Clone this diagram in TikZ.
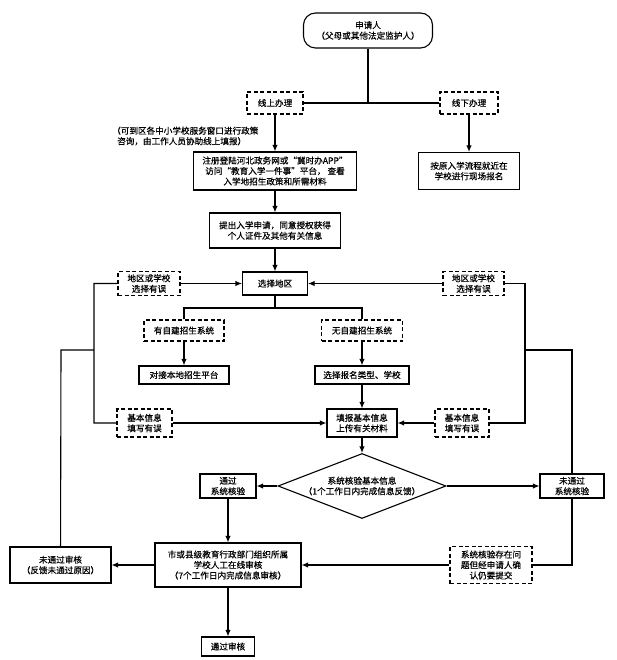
\documentclass[tikz,border=0pt]{standalone}
\usepackage{fontspec}
\setmainfont{Noto Sans CJK SC}[FakeBold=0.4]
\usetikzlibrary{shapes.geometric,arrows.meta}

\begin{document}
\begin{tikzpicture}[x=1pt,y=-1pt,font=\fontsize{8.6pt}{10.5pt}\selectfont,
    box/.style ={rectangle, draw, line width=1.1pt, align=center, inner sep=1pt},
    dbox/.style ={box, dash pattern=on 4pt off 2.5pt},
    link/.style ={line width=1.1pt},
    flow/.style ={link, -{Latex[length=6.5pt,width=5.5pt]}}]
   \useasboundingbox (0,0) rectangle (616,660);
   \node[box, rounded corners=12pt, minimum width=129pt, minimum height=35pt] (apply) at (368,30.5) {申请人\\（父母或其他法定监护人）};
   \node[dbox, minimum width=56pt, minimum height=22pt] (online) at (275,103) {线上办理};
   \node[dbox, minimum width=58pt, minimum height=22pt] (offline) at (469,103) {线下办理};
   \node[align=left, anchor=west, inner sep=0pt] (note) at (112,136) {（可到区各中小学校服务窗口进行政策\\\hspace*{5pt}咨询，由工作人员协助线上填报）};
   \node[box, minimum width=163pt, minimum height=38pt] (register) at (275,171) {注册登陆河北政务网或“冀时办APP”\\访问“教育入学一件事”平台， 查看\\入学地招生政策和所需材料};
   \node[box, minimum width=101pt, minimum height=37pt] (onsite) at (469,171) {按原入学流程就近在\\学校进行现场报名};
   \node[box, minimum width=131pt, minimum height=35pt] (submit) at (275,230.5) {提出入学申请，同意授权获得\\个人证件及其他有关信息};
   \node[box, minimum width=65pt, minimum height=23pt] (region) at (275,283.5) {选择地区};
   \node[dbox, minimum width=62pt, minimum height=24pt] (errL) at (149,283.5) {地区或学校\\选择有误};
   \node[dbox, minimum width=61pt, minimum height=24pt] (errR) at (473.5,283.5) {地区或学校\\选择有误};
   \node[dbox, minimum width=80pt, minimum height=21pt] (selfY) at (184,330.5) {有自建招生系统};
   \node[dbox, minimum width=81pt, minimum height=21pt] (selfN) at (362,330.5) {无自建招生系统};
   \node[box, minimum width=90pt, minimum height=18pt] (local) at (184,375) {对接本地招生平台};
   \node[box, minimum width=94pt, minimum height=18pt] (choose) at (362,375) {选择报名类型、学校};
   \node[box, minimum width=70pt, minimum height=28pt] (fill) at (362,423) {填报基本信息\\上传有关材料};
   \node[dbox, minimum width=55pt, minimum height=28pt] (infoL) at (144.5,423) {基本信息\\填写有误};
   \node[dbox, minimum width=54pt, minimum height=28pt] (infoR) at (462,423) {基本信息\\填写有误};
   \node[diamond, draw, line width=1.1pt, align=center, inner sep=0pt, aspect=2.6,
     minimum width=168pt, minimum height=65pt] (check) at (362,486) {系统核验基本信息\\（1个工作日内完成信息反馈）};
   \node[box, minimum width=56pt, minimum height=24pt] (pass) at (228,486) {通过\\系统核验};
   \node[box, minimum width=64pt, minimum height=24pt] (fail) at (572,486) {未通过\\系统核验};
   \node[box, minimum width=146pt, minimum height=44pt] (review) at (228,565) {市或县级教育行政部门组织所属\\学校人工在线审核\\（7个工作日内完成信息审核）};
   \node[box, minimum width=101pt, minimum height=36pt] (reject) at (60.5,565) {未通过审核\\（反馈未通过原因）};
   \node[dbox, minimum width=82pt, minimum height=37pt] (confirm) at (491,565) {系统核验存在问\\题但经申请人确\\认仍要提交};
   \node[box, minimum width=53pt, minimum height=19pt] (done) at (228,646.5) {通过审核};
   \coordinate (fork) at (275,308);
   \coordinate (jl) at (61,350);
   \coordinate (jl2) at (94,350);
   \coordinate (jr) at (572,350);
   \coordinate (jr2) at (525,350);
   \draw[link] (apply) -- (apply |- online.east);
   \draw[link] (online) -- (offline);
   \draw[flow] (online) -- (register);
   \draw[flow] (offline) -- (onsite);
   \draw[flow] (register) -- (submit);
   \draw[flow] (submit) -- (region);
   \draw[flow] (errL) -- (region);
   \draw[flow] (errR) -- (region);
   \draw[link] (region) -- (fork);
   \draw[link] (selfY) |- (fork) -| (selfN);
   \draw[flow] (selfY) -- (local);
   \draw[flow] (selfN) -- (choose);
   \draw[flow] (choose) -- (fill);
   \draw[flow] (infoL) -- (fill);
   \draw[flow] (infoR) -- (fill);
   \draw[flow] (fill) -- (check);
   \draw[flow] (check) -- (pass);
   \draw[flow] (check) -- (fail);
   \draw[flow] (pass) -- (review);
   \draw[flow] (review) -- (reject);
   \draw[flow] (review) -- (done);
   \draw[flow] (confirm) -- (review);
   \draw[link] (fail) |- (confirm);
   \draw[link] (reject) -- (jl) -- (jl2) |- (errL) (jl2) |- (infoL);
   \draw[link] (fail) -- (jr) -- (jr2) |- (errR) (jr2) |- (infoR);
 \end{tikzpicture}
\end{document}
